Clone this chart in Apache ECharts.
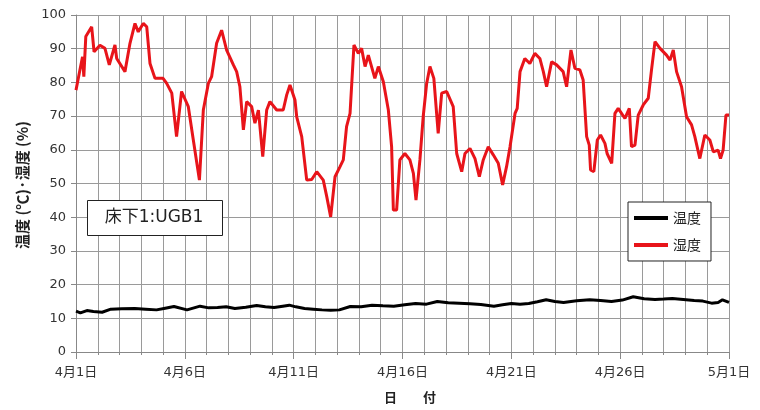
<!DOCTYPE html>
<html><head><meta charset="utf-8">
<script src="https://cdn.jsdelivr.net/npm/echarts@6/dist/echarts.min.js"></script>
<style>html,body{margin:0;padding:0;background:#fff}#c{width:760px;height:410px}</style>
</head><body><div id="c"></div>
<script>
// x in days since 4月1日
const xLabels = ['4月1日','4月6日','4月11日','4月16日','4月21日','4月26日','5月1日'];
const tempName = '温度';
const humName = '湿度';
const yTitle = '温度 (℃)·湿度 (%)';
const xTitle = '日　　付';
const boxText = '床下1:UGB1';

const humDays = [0,0.18,0.3,0.36,0.45,0.72,0.83,1.1,1.33,1.53,1.79,1.87,2.25,2.48,2.71,2.86,3.09,3.25,3.4,3.63,4.0,4.16,4.4,4.62,4.85,5.16,5.39,5.67,5.85,6.08,6.23,6.46,6.69,6.92,7.23,7.38,7.53,7.69,7.84,8.07,8.22,8.38,8.58,8.76,8.91,9.22,9.52,9.68,9.83,10.06,10.14,10.37,10.6,10.83,11.06,11.36,11.52,11.7,11.9,12.13,12.28,12.43,12.59,12.77,12.97,13.12,13.28,13.43,13.73,13.89,14.12,14.35,14.5,14.58,14.73,14.88,15.11,15.34,15.5,15.62,15.8,15.95,16.11,16.26,16.44,16.64,16.8,17.03,17.33,17.49,17.72,17.87,18.1,18.33,18.53,18.71,18.94,19.17,19.4,19.6,19.78,19.94,20.17,20.27,20.4,20.62,20.85,21.08,21.31,21.47,21.62,21.85,22.08,22.38,22.54,22.74,22.92,23.15,23.3,23.46,23.58,23.64,23.79,23.95,24.1,24.3,24.4,24.61,24.76,24.91,25.22,25.42,25.52,25.68,25.83,26.06,26.29,26.44,26.6,26.83,27.13,27.29,27.44,27.59,27.82,28.05,28.28,28.43,28.66,28.89,29.12,29.28,29.5,29.61,29.73,29.86,30.0];
const humVals = [77.7,83.7,87.6,81.7,93.6,96.5,89.1,91,90.1,85.2,91.1,87.1,83.2,91.6,97.5,95,97.5,96.5,85.6,81.2,81.2,79.8,76.8,63.9,77.3,72.8,62.9,51,71.8,79.7,81.7,91.6,95.5,89.6,85.2,83.2,78.7,65.9,74.3,72.8,67.9,71.8,58,71.8,74.3,71.8,71.8,76.3,79.2,74.8,69.8,63.9,51,51.2,53.5,51,46.1,40.1,52,55,57,66.9,70.8,91.1,88.6,90.1,84.7,88.1,81.2,84.7,80.2,71.8,60.9,42.1,42.1,57,58.9,57,53,45.1,57,69.8,79.7,84.7,81.2,64.9,76.8,77.3,72.8,58.9,53.5,58.9,60.4,57.4,52,57,60.9,58.5,56,49.6,55,60.9,70.8,72.3,83.2,87.1,85.6,88.6,87.1,83.2,78.7,86.1,85.2,83.2,78.7,89.6,84.2,83.7,80.7,63.9,61.4,54,53.5,62.9,64.4,61.9,58.9,56,70.8,72.3,69.3,72.3,60.9,61.4,70.3,73.3,75.3,83.7,92.1,90.1,88.1,86.6,89.6,83.2,78.7,69.8,67.4,63.9,57.4,64.4,62.9,59.4,59.9,57.4,59.9,70.3,70.3];

const tempDays = [0,0.2,0.5,0.8,1.2,1.6,2.1,2.7,3.2,3.7,4.1,4.5,5.1,5.7,6.1,6.5,6.9,7.3,7.8,8.3,8.7,9.1,9.5,9.8,10.1,10.5,10.9,11.3,11.7,12.1,12.6,13.1,13.6,14.1,14.6,15.1,15.6,16.1,16.6,17.1,17.6,18.1,18.6,19.2,19.6,20,20.4,20.8,21.2,21.6,22,22.4,23,23.6,24.1,24.6,25.1,25.6,26.1,26.6,27,27.4,27.9,28.4,28.8,29.2,29.5,29.7,30];
const tempVals = [12.1,11.6,12.3,12.0,11.8,12.7,12.8,12.9,12.7,12.5,13.0,13.5,12.5,13.6,13.1,13.2,13.4,12.9,13.3,13.8,13.4,13.2,13.6,13.9,13.4,12.9,12.7,12.5,12.4,12.5,13.5,13.4,13.9,13.7,13.6,14.0,14.4,14.2,15.0,14.6,14.5,14.3,14.1,13.6,14.0,14.4,14.2,14.4,14.9,15.5,15.0,14.7,15.2,15.5,15.3,15.0,15.4,16.4,15.8,15.6,15.7,15.9,15.6,15.3,15.1,14.5,14.7,15.5,14.7];

const hum = humDays.map((d,i)=>[d,humVals[i]]);
const temp = tempDays.map((d,i)=>[d,tempVals[i]]);

const chart = echarts.init(document.getElementById('c'));
const font = '"DejaVu Sans", "Noto Sans CJK JP", sans-serif';
chart.setOption({
  animation:false,
  textStyle:{fontFamily:font},
  grid:{left:76,right:31,top:15,bottom:58},
  xAxis:{type:'value',min:0,max:30,interval:5,
    axisLine:{lineStyle:{color:'#888',width:1}},
    axisTick:{show:true,length:7,lineStyle:{color:'#888'}},
    minorTick:{show:true,splitNumber:5,length:3,lineStyle:{color:'#888'}},
    splitLine:{show:true,lineStyle:{color:'#9a9a9a',width:1}},
    minorSplitLine:{show:true,lineStyle:{color:'#9a9a9a',width:1}},
    axisLabel:{fontSize:13,fontFamily:font,color:'#333',margin:14,formatter:(v)=>xLabels[Math.round(v/5)]||''}
  },
  yAxis:{type:'value',min:0,max:100,interval:10,
    axisLine:{show:true,lineStyle:{color:'#888'}},
    axisTick:{show:true,length:5,lineStyle:{color:'#888'}},
    splitLine:{show:true,lineStyle:{color:'#9a9a9a',width:1}},
    axisLabel:{fontSize:13,fontFamily:font,color:'#333',margin:10}
  },
  legend:{left:628,top:202,orient:'vertical',
    backgroundColor:'#fff',borderColor:'#222',borderWidth:1,borderRadius:0,
    padding:[9,10,9,6],itemGap:13,itemWidth:34,itemHeight:4,icon:'rect',
    textStyle:{fontSize:14,color:'#222',fontFamily:'"Noto Sans CJK JP", sans-serif'},
    data:[tempName,humName]},
  graphic:[
    {type:'text',x:22,y:185,rotation:Math.PI/2,
      style:{text:yTitle,fill:'#222',align:'center',verticalAlign:'middle',font:'bold 15px "Noto Sans CJK JP", sans-serif'}},
    {type:'text',x:410,y:397,
      style:{text:xTitle,fill:'#222',align:'center',verticalAlign:'middle',font:'bold 13px "Noto Sans CJK JP", sans-serif'}},
    {type:'rect',shape:{x:87.5,y:200.5,width:135,height:35},
      style:{fill:'#fff',stroke:'#222',lineWidth:1},z:10},
    {type:'text',x:154,y:218,z:11,
      style:{text:boxText,fill:'#222',align:'center',verticalAlign:'middle',font:'17px '+font}}
  ],
  series:[
    {name:tempName,type:'line',data:temp,showSymbol:false,color:'#000',lineStyle:{width:3,color:'#000'}},
    {name:humName,type:'line',data:hum,showSymbol:false,color:'#e8141a',lineStyle:{width:3,color:'#e8141a'}}
  ]
});
</script></body></html>
